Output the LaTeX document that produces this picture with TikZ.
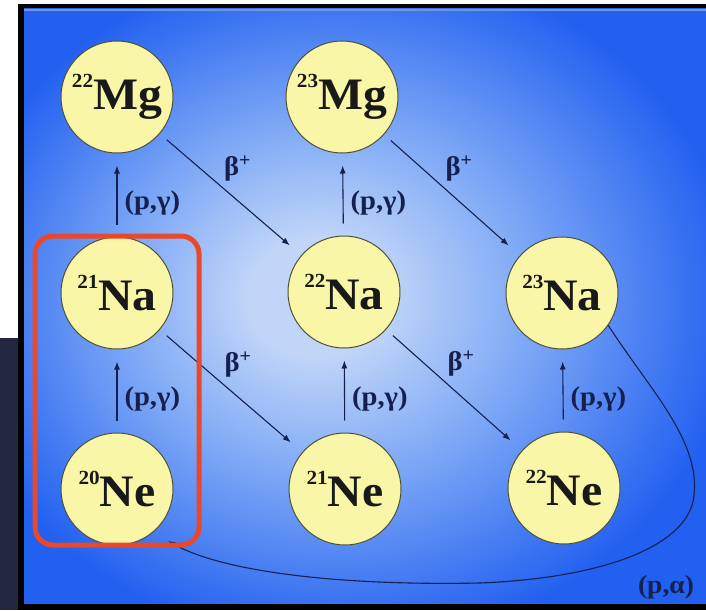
\documentclass[tikz,border=0pt]{standalone}
\usepackage{fontspec}
\setmainfont{Liberation Serif}[FakeStretch=1.06]
\usetikzlibrary{positioning, arrows.meta}
\definecolor{panelblue}{RGB}{34,96,240}
\definecolor{glowcore}{RGB}{192,213,248}
\definecolor{glowmid}{RGB}{125,168,246}
\definecolor{nucyellow}{RGB}{250,246,168}
\definecolor{nucedge}{RGB}{80,80,55}
\definecolor{inkblue}{RGB}{22,32,78}
\definecolor{framered}{RGB}{234,72,42}
\definecolor{slidenavy}{RGB}{34,38,62}
\definecolor{rimblue}{RGB}{120,150,215}
\pgfdeclareradialshading{panelglow}{\pgfpoint{-4bp}{0.8bp}}{color(0bp)=(glowcore); color(5bp)=(glowcore); color(15bp)=(glowmid); color(29bp)=(panelblue); color(50bp)=(panelblue)}
\newcommand{\nucl}[2]{\raisebox{0.5em}{\fontsize{20}{20}\selectfont #1}#2}

\begin{document}
\begin{tikzpicture}[x=1pt, y=-1pt,
  iso/.style={circle, draw=nucedge, line width=1pt, fill=nucyellow, minimum size=112pt, inner sep=0pt, text=black!90, font=\fontsize{45}{45}\selectfont\bfseries},
  rx/.style={draw=inkblue, line width=1.1pt, -{Latex[length=8pt,width=6pt]}, shorten >=12pt, shorten <=12pt},
  dg/.style={rx, shorten >=15pt, shorten <=9pt},
  gam/.style={pos=0.4, right=7pt, inner sep=0pt, text=inkblue, font=\fontsize{27}{27}\selectfont\bfseries},
  bet/.style={pos=0.5, above=13pt, xshift=7pt, inner sep=0pt, text=inkblue, font=\fontsize{27}{27}\selectfont\bfseries}]
 \useasboundingbox (0,0) rectangle (706,610);
 \fill[white] (0,0) rectangle (706,610);
 \fill[slidenavy] (0,338) rectangle (18,610);
 \fill[black] (18,4) rectangle (706,610);
 \fill[panelblue] (24,9) rectangle (706,603);
 \shade[shading=panelglow] (24,9) rectangle (706,603);
 \draw[rimblue, line width=2pt] (24,10.5) -- (706,10.5);

 \node[iso] (mg22) at (117,97)  {\nucl{22}{Mg}};
 \node[iso] (mg23) at (342,97)  {\nucl{23}{Mg}};
 \node[iso] (na21) at (117,293) {\nucl{21}{Na}};
 \node[iso] (na22) at (344,292) {\nucl{22}{Na}};
 \node[iso] (na23) at (562,293) {\nucl{23}{Na}};
 \node[iso] (ne20) at (117,489) {\nucl{20}{Ne}};
 \node[iso] (ne21) at (345,489) {\nucl{21}{Ne}};
 \node[iso] (ne22) at (564,488) {\nucl{22}{Ne}};

 \draw[rx] (ne20) -- node[gam] {(p,γ)} (na21);
 \draw[rx] (na21) -- node[gam] {(p,γ)} (mg22);
 \draw[rx] (ne21) -- node[gam] {(p,γ)} (na22);
 \draw[rx] (na22) -- node[gam] {(p,γ)} (mg23);
 \draw[rx] (ne22) -- node[gam] {(p,γ)} (na23);
 \draw[dg] (mg22) -- node[bet] {β\textsuperscript{+}} (na22);
 \draw[dg] (mg23) -- node[bet] {β\textsuperscript{+}} (na23);
 \draw[dg] (na21) -- node[bet] {β\textsuperscript{+}} (ne21);
 \draw[dg] (na22) -- node[bet] {β\textsuperscript{+}} (ne22);

 \coordinate (aend) at (168,541);
 \draw[draw=inkblue, line width=1.1pt, -{Latex[length=8pt,width=6pt]}] (na23.-35)
   .. controls (650,390) and (700,440) .. (694,495)
   .. controls (690,545) and (605,578) .. (480,583)
   .. controls (330,586) and (220,570) .. (aend);
 \node[inner sep=0pt, text=inkblue, font=\fontsize{26}{26}\selectfont\bfseries] (pa) at (666,587) {(p,α)};

 \draw[framered, line width=5pt, rounded corners=18pt] (35,236) rectangle (199,545);
\end{tikzpicture}
\end{document}
